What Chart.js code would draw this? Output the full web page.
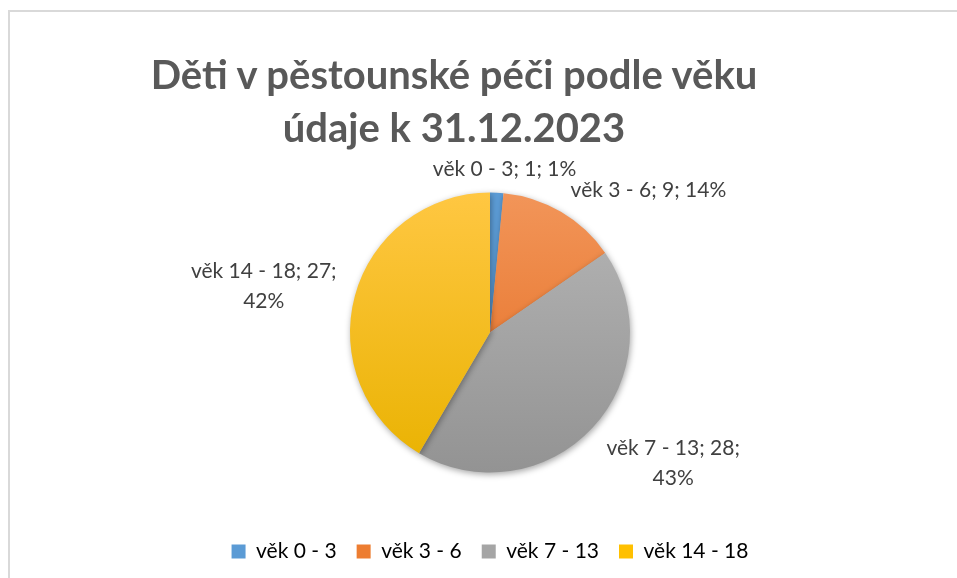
<!DOCTYPE html>
<html>
<head>
<meta charset="utf-8">
<script src="https://cdn.jsdelivr.net/npm/chart.js@4.4.1/dist/chart.umd.min.js"></script>
<style>
  html, body { margin: 0; padding: 0; background: #ffffff; overflow: hidden; }
  #wrap { position: relative; width: 957px; height: 578px; overflow: hidden; }
  #frame { position: absolute; left: 8px; top: 10px; width: 1000px; height: 600px; border: 2px solid #d9d9d9; box-sizing: border-box; }
  #title { position: absolute; left: 0; top: 48px; width: 908px; text-align: center;
           font-family: Lato, "Open Sans", sans-serif; font-weight: bold; font-size: 40px; line-height: 53px; color: #595959; }
  canvas { position: absolute; left: 0; top: 0; }
</style>
</head>
<body>
<div id="wrap">
  <div id="frame"></div>
  <canvas id="c" width="957" height="578"></canvas>
  <div id="title">Děti v pěstounské péči podle věku<br>údaje k 31.12.2023</div>
</div>
<script>
const categories = ["věk 0 - 3", "věk 3 - 6", "věk 7 - 13", "věk 14 - 18"];
const values = [1, 9, 28, 27];
const percentLabels = [1, 14, 43, 42];
const colorsTop = ["#6ea8dd", "#f29559", "#b6b6b6", "#ffc742"];
const colorsBottom = ["#4f8ccc", "#e36a1c", "#939393", "#e9b200"];
const colorsSolid = ["#5b9bd5", "#ed7d31", "#a5a5a5", "#ffc000"];

const LABEL_FONT = '21px Lato, "Open Sans", sans-serif';
const MAX_LABEL_W = 172;

function gradientFor(ctx, i) {
  const chart = ctx.chart;
  const meta = chart.getDatasetMeta(0);
  const arc = meta && meta.data && meta.data[0];
  if (!chart.chartArea || !arc || !arc.outerRadius) return colorsSolid[i];
  const cy = arc.y, r = arc.outerRadius;
  const g = chart.ctx.createLinearGradient(0, cy - r, 0, cy + r);
  g.addColorStop(0, colorsTop[i]);
  g.addColorStop(1, colorsBottom[i]);
  return g;
}

const shadowPlugin = {
  id: 'shadow',
  beforeDatasetsDraw(chart) {
    const c = chart.ctx;
    c.save();
    c.shadowColor = 'rgba(0,0,0,0.35)';
    c.shadowBlur = 6;
    c.shadowOffsetX = 1;
    c.shadowOffsetY = 2;
  },
  afterDatasetsDraw(chart) {
    chart.ctx.restore();
  }
};

const clamp1 = v => Math.max(-1, Math.min(1, v));

const labelPlugin = {
  id: 'pieLabels',
  afterDraw(chart) {
    const c = chart.ctx;
    const meta = chart.getDatasetMeta(0);
    c.save();
    c.font = LABEL_FONT;
    c.fillStyle = '#404040';
    c.textAlign = 'center';
    c.textBaseline = 'middle';
    const lineH = 30;
    meta.data.forEach((arc, i) => {
      const full = categories[i] + '; ' + values[i] + '; ' + percentLabels[i] + '%';
      let lines = [full];
      if (c.measureText(full).width > MAX_LABEL_W) {
        lines = [categories[i] + '; ' + values[i] + ';', percentLabels[i] + '%'];
      }
      const w = Math.max(...lines.map(l => c.measureText(l).width));
      const h = lines.length * lineH - 5;
      const mid = (arc.startAngle + arc.endAngle) / 2;
      const ux = Math.cos(mid), uy = Math.sin(mid);
      const px = arc.x + ux * (arc.outerRadius + 19);
      const py = arc.y + uy * (arc.outerRadius + 11);
      const fx = clamp1(ux * 2);
      const fy = clamp1(Math.sign(uy) * 4 * uy * uy);
      const cx = px + fx * w / 2;
      const cy = py + fy * h / 2;
      lines.forEach((l, j) => {
        c.fillText(l, cx, cy - h / 2 + lineH / 2 - 2 + j * lineH);
      });
    });
    c.restore();
  }
};

new Chart(document.getElementById('c'), {
  type: 'pie',
  data: {
    labels: categories,
    datasets: [{
      data: values,
      backgroundColor: (ctx) => gradientFor(ctx, ctx.dataIndex),
      borderWidth: 0,
      radius: 140
    }]
  },
  options: {
    responsive: false,
    animation: false,
    events: [],
    layout: { padding: { top: 144, left: 23, right: 0, bottom: 6 } },
    plugins: {
      title: { display: false },
      tooltip: { enabled: false },
      legend: {
        position: 'bottom',
        labels: {
          font: { family: 'Lato, "Open Sans", sans-serif', size: 21 },
          color: '#595959',
          boxWidth: 14,
          boxHeight: 14,
          padding: 20,
          generateLabels(chart) {
            return categories.map((t, i) => ({
              text: t, fillStyle: colorsSolid[i], strokeStyle: colorsSolid[i],
              lineWidth: 0, hidden: false, index: i
            }));
          }
        }
      }
    }
  },
  plugins: [shadowPlugin, labelPlugin]
});
</script>
</body>
</html>
